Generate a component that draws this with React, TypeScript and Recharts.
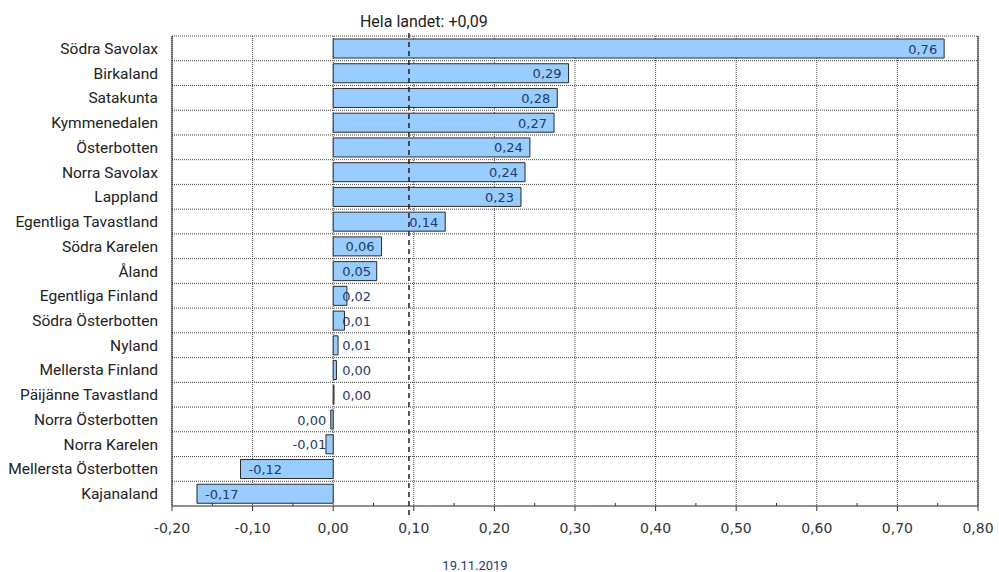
import React from 'react'
import {
  BarChart, Bar, XAxis, YAxis, CartesianGrid, ReferenceLine, LabelList,
} from 'recharts'

const regions = [
  'Södra Savolax', 'Birkaland', 'Satakunta', 'Kymmenedalen', 'Österbotten',
  'Norra Savolax', 'Lappland', 'Egentliga Tavastland', 'Södra Karelen', 'Åland',
  'Egentliga Finland', 'Södra Österbotten', 'Nyland', 'Mellersta Finland',
  'Päijänne Tavastland', 'Norra Österbotten', 'Norra Karelen',
  'Mellersta Österbotten', 'Kajanaland',
]

const change = [
  0.758, 0.292, 0.278, 0.274, 0.244,
  0.238, 0.233, 0.139, 0.06, 0.054,
  0.017, 0.014, 0.006, 0.004,
  0.001, -0.003, -0.009,
  -0.115, -0.169,
]

const wholeCountry = 0.094
const wholeCountryLabel = 'Hela landet: +0,09'
const dateLabel = '19.11.2019'

const xDomain = [-0.2, 0.8]
const majorTicks = [-0.2, -0.1, 0, 0.1, 0.2, 0.3, 0.4, 0.5, 0.6, 0.7, 0.8]
const minorTicks = [-0.15, -0.05, 0.05, 0.15, 0.25, 0.35, 0.45, 0.55, 0.65, 0.75]

const data = regions.map((name, i) => ({ name, value: change[i] }))

const W = 999
const H = 572
const BLUE_TEXT = '#1f3a6e'

function fmt(v: number) {
  let s = v.toFixed(2).replace('.', ',')
  if (s === '-0,00') s = '0,00'
  return s
}

// rough text width for DejaVu Sans 13px
function textW(s: string) {
  let w = 0
  for (const c of s) w += c === ',' ? 4.13 : c === '-' ? 4.7 : 8.27
  return w
}

// value inside the bar at its far end, pushed off the zero line when the bar is short
const ValueLabel = (props: any) => {
  const { x, y, width, height, value } = props
  const left = Math.min(x, x + width)
  const right = Math.max(x, x + width)
  const s = fmt(value)
  const w = textW(s)
  let tx
  if (value >= 0) tx = Math.max(right - w - 7, left + 9)
  else tx = Math.min(left + 8, right - w - 7)
  return (
    <text x={tx} y={y + height / 2 + 5} style={{ fontSize: 13, fontFamily: 'DejaVu Sans', fill: BLUE_TEXT }}>
      {s}
    </text>
  )
}

// major ticks get a label and a tick below the axis, minor ones a short tick above
const XTick = (props: any) => {
  const { x, y, payload } = props
  const v = payload.value
  const major = majorTicks.some(t => Math.abs(t - v) < 1e-6)
  if (!major) {
    return <line x1={x} x2={x} y1={y - 3} y2={y} stroke="#333" />
  }
  return (
    <g>
      <line x1={x} x2={x} y1={y} y2={y + 5} stroke="#333" />
      <text x={x} y={y + 27} textAnchor="middle" style={{ fontSize: 14, fontFamily: 'DejaVu Sans', fill: '#333' }}>
        {v.toFixed(2).replace('.', ',')}
      </text>
    </g>
  )
}

const CountryLine = (props: any) => {
  const { x1, y1, y2 } = props
  const top = Math.min(y1, y2)
  const bottom = Math.max(y1, y2)
  return (
    <g>
      <line x1={x1} x2={x1} y1={top - 3} y2={bottom + 12} stroke="#222" strokeWidth={1.5} strokeDasharray="5 4" />
      <text x={x1 - 49} y={top - 9.5} style={{ fontSize: 16, fontFamily: 'Roboto', fill: '#222' }}>
        {wholeCountryLabel}
      </text>
    </g>
  )
}

export default function App() {
  return (
    <div style={{ position: 'absolute', left: 0, top: 0, width: W, height: H, background: '#fff' }}>
      <BarChart
        width={W}
        height={H}
        data={data}
        layout="vertical"
        margin={{ top: 36, right: 21, bottom: 36, left: 0 }}
        barSize={19}
      >
        <CartesianGrid
          stroke="#444"
          strokeDasharray="1 1"
          verticalCoordinatesGenerator={({ offset }: any) =>
            majorTicks.map(t => offset.left + ((t - xDomain[0]) / (xDomain[1] - xDomain[0])) * offset.width)}
          horizontalCoordinatesGenerator={({ offset }: any) =>
            regions.map((_, i) => offset.top + (i * offset.height) / regions.length)}
        />
        <XAxis
          type="number"
          domain={xDomain}
          ticks={[...majorTicks, ...minorTicks].sort((a, b) => a - b)}
          interval={0}
          height={30}
          tickLine={false}
          tickSize={0}
          tickMargin={0}
          axisLine={{ stroke: '#222' }}
          tick={<XTick />}
        />
        <YAxis
          type="category"
          dataKey="name"
          width={172}
          tickLine={false}
          tickSize={0}
          tickMargin={14}
          axisLine={{ stroke: '#222' }}
          interval={0}
          tick={{ fontSize: 15.5, fontFamily: 'Roboto', fill: '#222' }}
        />
        <ReferenceLine x={0.8} stroke="#222" />
        <Bar dataKey="value" fill="#99ccff" stroke="#2a2a2a" strokeWidth={1} isAnimationActive={false}>
          <LabelList dataKey="value" content={<ValueLabel />} />
        </Bar>
        <ReferenceLine x={wholeCountry} shape={<CountryLine />} />
      </BarChart>
      <div
        style={{
          position: 'absolute', left: 0, width: 950, top: 558, textAlign: 'center',
          fontFamily: 'Roboto', fontSize: 13, color: BLUE_TEXT,
        }}
      >
        {dateLabel}
      </div>
    </div>
  )
}
